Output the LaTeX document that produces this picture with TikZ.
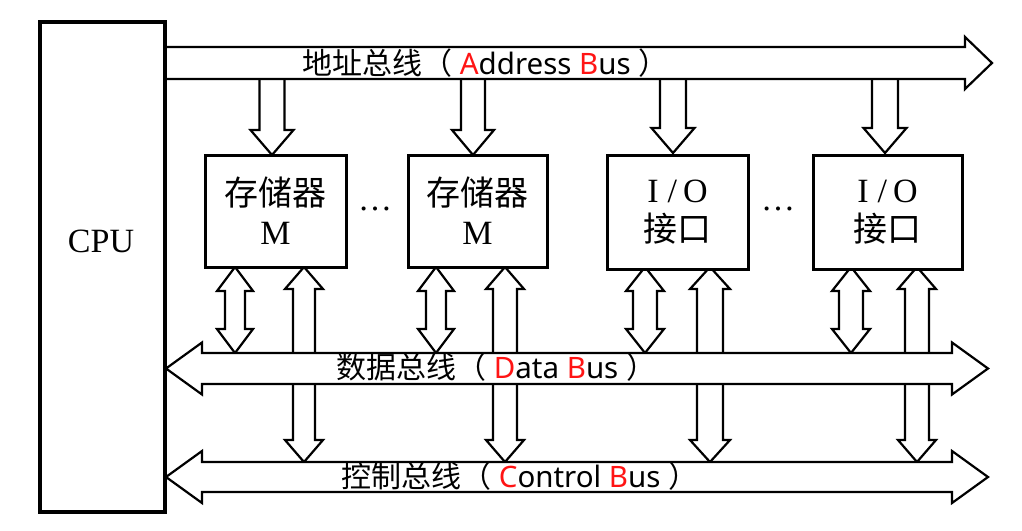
\documentclass[tikz,border=0pt]{standalone}
\usepackage{fontspec}
\setmainfont{Liberation Serif}
\newfontfamily\cjk{Noto Sans CJK SC}
\newfontfamily\lat{Noto Sans}
\definecolor{busred}{RGB}{255,20,20}
% block arrow pointing down: x, ytop, ytip, shaft half, head half, head length
\newcommand\downblk[6]{%
  \draw[blk] ({#1-#4},#2) -- ({#1-#4},{#3-#6}) -- ({#1-#5},{#3-#6}) -- (#1,#3)
    -- ({#1+#5},{#3-#6}) -- ({#1+#4},{#3-#6}) -- ({#1+#4},#2);}
% double-headed vertical block arrow: x, ytop, ybot, shaft half, head half, head length
\newcommand\dblblk[6]{%
  \draw[blk] (#1,#2) -- ({#1+#5},{#2+#6}) -- ({#1+#4},{#2+#6}) -- ({#1+#4},{#3-#6})
    -- ({#1+#5},{#3-#6}) -- (#1,#3) -- ({#1-#5},{#3-#6}) -- ({#1-#4},{#3-#6})
    -- ({#1-#4},{#2+#6}) -- ({#1-#5},{#2+#6}) -- cycle;}
% double-headed horizontal bus: yc, shaft half, head half, xleft tip, xright tip, head length
\newcommand\hbus[6]{%
  \draw[blk] (#4,#1) -- ({#4+#6},{#1-#3}) -- ({#4+#6},{#1-#2}) -- ({#5-#6},{#1-#2})
    -- ({#5-#6},{#1-#3}) -- (#5,#1) -- ({#5-#6},{#1+#3}) -- ({#5-#6},{#1+#2})
    -- ({#4+#6},{#1+#2}) -- ({#4+#6},{#1+#3}) -- cycle;}
\newcommand\cjkbig{\fontsize{30}{30}\selectfont\cjk}
\newcommand\latbig{\fontsize{29.5}{30}\selectfont\lat}
\begin{document}
\begin{tikzpicture}[x=1pt,y=-1pt,line join=miter,
  blk/.style={draw,line width=2.2pt,fill=white},
  boxst/.style={draw,line width=3pt,fill=white,inner sep=0pt,align=center,
    font=\fontsize{34}{39}\selectfont},
  cpubox/.style={draw,line width=3.2pt,fill=white,inner sep=0pt,
    minimum width=125pt,minimum height=490pt},
  buslabel/.style={anchor=west,inner sep=0pt},
  dots/.style={anchor=base,inner sep=0pt,font=\fontsize{34}{34}\selectfont}]
\useasboundingbox (0,0) rectangle (1022,530);
\fill[white] (0,0) rectangle (1022,530);
% address bus branches
\downblk{272}{79}{155}{12.5}{21.5}{25}
\downblk{473}{79}{155}{12}{21}{25}
\downblk{673}{79}{153}{13}{21.5}{25}
\downblk{885}{79}{153}{13}{21.5}{25}
% address bus
\draw[blk] (165,47) -- (965,47) -- (965,37) -- (992,63) -- (965,89) -- (965,79) -- (165,79);
% control bus branches
\dblblk{304}{267}{462}{11}{19}{22}
\dblblk{505}{267}{462}{12}{19}{22}
\dblblk{710}{267}{462}{13}{20}{22}
\dblblk{917}{267}{462}{12}{19}{22}
% control bus
\hbus{477}{15}{26}{166}{988}{36}
% data bus branches
\dblblk{235}{267}{353}{10}{18}{24}
\dblblk{436}{267}{353}{10}{18}{24}
\dblblk{645}{267}{353}{12}{19}{24}
\dblblk{851}{267}{353}{12}{19}{24}
% data bus
\hbus{368.5}{15.5}{26}{166}{988}{36}
% modules
\node[boxst,minimum width=141pt,minimum height=112pt] (m1) at (275.5,211) {{\cjk 存储器}\\M};
\node[boxst,minimum width=139pt,minimum height=112pt] (m2) at (477.5,211) {{\cjk 存储器}\\M};
\node[boxst,minimum width=141pt,minimum height=114pt] (io1) at (677.5,212) {I\kern9pt/\kern6pt O\\{\cjk 接口}};
\node[boxst,minimum width=149pt,minimum height=114pt] (io2) at (887.5,212) {I\kern9pt/\kern6pt O\\{\cjk 接口}};
\node[dots] (d1) at (375,210) {…};
\node[dots] (d2) at (778,210) {…};
% CPU
\node[cpubox] (cpu) at (102.5,267) {};
\node[inner sep=0pt,font=\fontsize{34}{36}\selectfont] (cputxt) at (101,241) {CPU};
% bus labels
\node[buslabel] (alab) at (302,63) {\cjkbig 地址总线（\latbig\ \textcolor{busred}{A}ddress \textcolor{busred}{B}us \cjkbig ）};
\node[buslabel] (dlab) at (336,367) {\cjkbig 数据总线（\latbig\ \textcolor{busred}{D}ata \textcolor{busred}{B}us \cjkbig ）};
\node[buslabel] (clab) at (341,476) {\cjkbig 控制总线（\latbig\ \textcolor{busred}{C}ontrol \textcolor{busred}{B}us \cjkbig ）};
\end{tikzpicture}
\end{document}
